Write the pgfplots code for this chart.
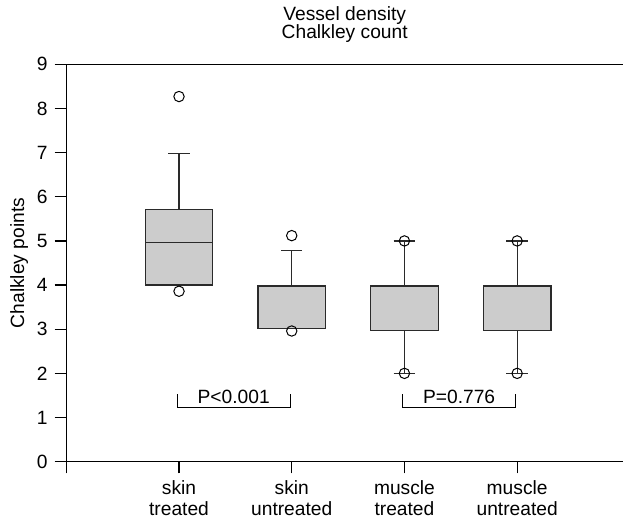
\documentclass[border=0pt]{standalone}
\usepackage{fontspec}
\setmainfont{Liberation Sans}
\usepackage{pgfplots}
\pgfplotsset{compat=1.18}
\usepgfplotslibrary{statistics}
\definecolor{boxfill}{HTML}{CCCCCC}
\definecolor{boxline}{HTML}{2A2A2A}
\begin{document}
\begin{tikzpicture}[font=\fontsize{9.6}{11.3}\selectfont]
\useasboundingbox (-33.15pt,-30.15pt) rectangle (278.35pt,230.85pt);
\begin{axis}[
  scale only axis,
  width=278.4pt, height=198.7pt,
  xmin=0, xmax=4.94, ymin=0, ymax=9,
  axis lines=left,
  axis line style={-, line width=0.6pt, black},
  tick align=outside,
  major tick length=5.8pt,
  tick style={line width=0.6pt, black},
  ytick={0,1,2,3,4,5,6,7,8,9},
  xtick={0,1,2,3,4},
  xticklabels={{},{skin\\treated},{skin\\untreated},{muscle\\treated},{muscle\\untreated}},
  xticklabel style={align=center, font=\fontsize{9.6}{10.8}\selectfont, yshift=0pt},
  yticklabel style={font=\fontsize{9.6}{11.3}\selectfont},
  /pgf/number format/assume math mode=true,
  ylabel={Chalkley points},
  every axis y label/.style={at={(axis description cs:-0.0848,0.5)}, anchor=center, rotate=90, font=\fontsize{9.6}{11.3}\selectfont},
  title={Vessel density\\Chalkley count},
  title style={align=center, font=\fontsize{9.6}{9.4}\selectfont, at={(axis description cs:0.5,1)}, anchor=south, yshift=1.2pt},
  clip=false,
  boxplot/draw direction=y,
  boxplot/box extend=0.6,
  boxplot/whisker extend=0.19,
]
% outliers (drawn first, boxes lie over them)
\addplot[only marks, mark=o, mark size=2.6pt, mark options={line width=0.5pt, black}] coordinates {(1,8.27) (1,3.86)};
\addplot[only marks, mark=o, mark size=2.6pt, mark options={line width=0.5pt, black}] coordinates {(2,5.12) (2,2.96)};
\addplot[only marks, mark=o, mark size=2.6pt, mark options={line width=0.5pt, black}] coordinates {(3,5) (3,2)};
\addplot[only marks, mark=o, mark size=2.6pt, mark options={line width=0.5pt, black}] coordinates {(4,5) (4,2)};
% boxes
\addplot[draw=boxline, fill=boxfill, line width=0.6pt, boxplot prepared={draw position=1, lower whisker=4, lower quartile=4, median=4.97, upper quartile=5.72, upper whisker=6.98}] coordinates {};
\addplot[draw=boxline, fill=boxfill, line width=0.6pt, boxplot prepared={draw position=2, lower whisker=3.02, lower quartile=3.02, median=3.98, upper quartile=3.98, upper whisker=4.79}] coordinates {};
\addplot[draw=boxline, fill=boxfill, line width=0.6pt, boxplot prepared={draw position=3, lower whisker=2, lower quartile=2.98, median=2.98, upper quartile=3.98, upper whisker=5}] coordinates {};
\addplot[draw=boxline, fill=boxfill, line width=0.6pt, boxplot prepared={draw position=4, lower whisker=2, lower quartile=2.98, median=2.98, upper quartile=3.98, upper whisker=5}] coordinates {};
% top frame line
\draw[line width=0.6pt, black] (rel axis cs:0,1) -- (rel axis cs:1,1);
% significance brackets
\draw[line width=0.5pt, black] (axis cs:0.985,1.53) -- (axis cs:0.985,1.22) -- (axis cs:1.985,1.22) -- (axis cs:1.985,1.53);
\node[anchor=base] at (axis cs:1.485,1.31) {P<0.001};
\draw[line width=0.5pt, black] (axis cs:2.985,1.53) -- (axis cs:2.985,1.22) -- (axis cs:3.985,1.22) -- (axis cs:3.985,1.53);
\node[anchor=base] at (axis cs:3.485,1.31) {P=0.776};
\end{axis}
\end{tikzpicture}
\end{document}
